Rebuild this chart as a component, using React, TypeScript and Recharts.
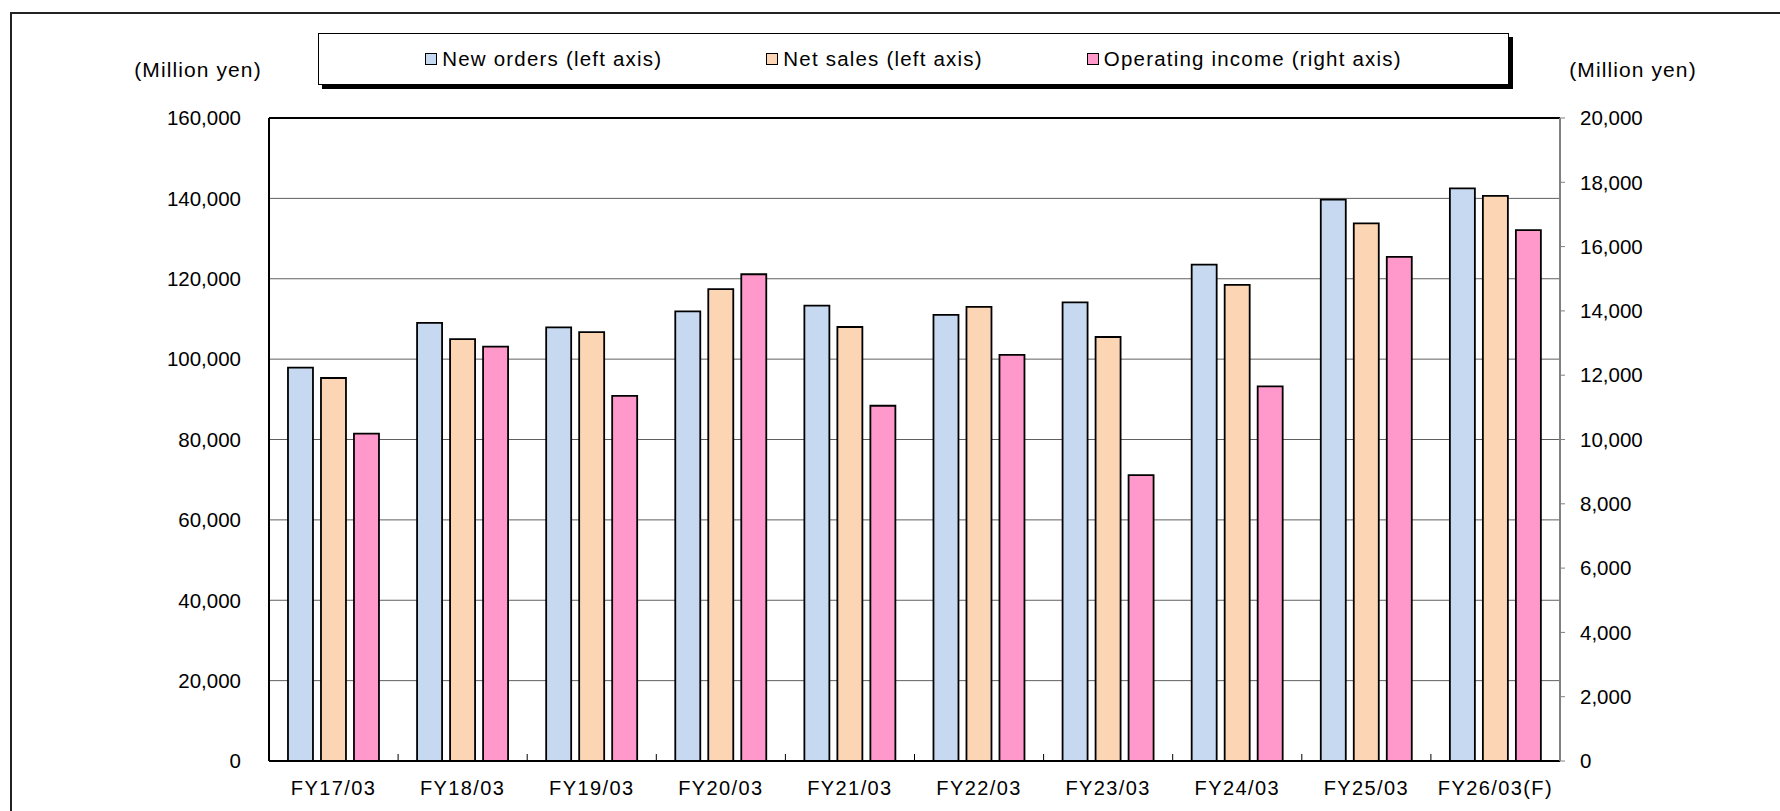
import React from "react";
import {
  BarChart,
  Bar,
  XAxis,
  YAxis,
  CartesianGrid,
  ReferenceLine,
} from "recharts";

// FY categories
const categories = [
  "FY17/03",
  "FY18/03",
  "FY19/03",
  "FY20/03",
  "FY21/03",
  "FY22/03",
  "FY23/03",
  "FY24/03",
  "FY25/03",
  "FY26/03(F)",
];

// million yen, left axis
const newOrders = [97900, 109000, 107900, 111900, 113300, 111000, 114100, 123500, 139700, 142500];
const netSales = [95300, 105000, 106700, 117400, 108000, 113000, 105500, 118500, 133800, 140600];

// million yen, right axis
const operatingIncome = [10180, 12890, 11360, 15140, 11050, 12630, 8890, 11650, 15680, 16510];

const leftTicks = [0, 20000, 40000, 60000, 80000, 100000, 120000, 140000, 160000];
const rightTicks = [0, 2000, 4000, 6000, 8000, 10000, 12000, 14000, 16000, 18000, 20000];

const series = [
  { key: "newOrders", name: "New orders (left axis)", color: "#C6D9F1", axis: "left" },
  { key: "netSales", name: "Net sales (left axis)", color: "#FCD5B4", axis: "left" },
  { key: "operatingIncome", name: "Operating income (right axis)", color: "#FF99CC", axis: "right" },
];

const data = categories.map((name, i) => ({
  name,
  newOrders: newOrders[i],
  netSales: netSales[i],
  operatingIncome: operatingIncome[i],
}));

const FONT = "'Liberation Sans', Arial, sans-serif";
const fmt = (v: number) => v.toLocaleString("en-US");

function CategoryTick(props: any) {
  const { x, y, payload, index, width } = props;
  const half = (width ?? 1291) / categories.length / 2;
  const axisY = y - 20;
  return (
    <g>
      <text
        x={x}
        y={y}
        dy="0.71em"
        textAnchor="middle"
        fontSize={20}
        letterSpacing={1.4}
        fill="#000"
        fontFamily={FONT}
      >
        {payload.value}
      </text>
      {index < categories.length - 1 && (
        <line x1={x + half} x2={x + half} y1={axisY} y2={axisY - 7} stroke="#000" strokeWidth={1} />
      )}
    </g>
  );
}

function LegendBox() {
  return (
    <div
      style={{
        position: "absolute",
        left: 318,
        top: 33,
        width: 1189,
        height: 50,
        border: "1px solid #000",
        boxShadow: "4px 4px 0 #000",
        background: "#fff",
        display: "flex",
        alignItems: "center",
        justifyContent: "center",
        gap: 104,
        fontSize: 20.5,
        letterSpacing: 1.2,
      }}
    >
      {series.map((s) => (
        <div key={s.key} style={{ display: "flex", alignItems: "center" }}>
          <span
            style={{
              display: "inline-block",
              width: 10,
              height: 10,
              border: "1px solid #000",
              background: s.color,
              marginRight: 5,
            }}
          />
          <span>{s.name}</span>
        </div>
      ))}
    </div>
  );
}

export default function App() {
  return (
    <div
      style={{
        position: "absolute",
        left: 0,
        top: 0,
        width: 1780,
        height: 811,
        overflow: "hidden",
        background: "#fff",
        fontFamily: FONT,
      }}
    >
      <div
        style={{
          position: "absolute",
          left: 10,
          top: 12,
          width: 2000,
          height: 2000,
          borderLeft: "2px solid #222",
          borderTop: "2px solid #222",
        }}
      />
      <BarChart
        width={1780}
        height={811}
        data={data}
        margin={{ top: 118, right: 120, bottom: 20, left: 0 }}
        barCategoryGap="14.7%"
        barGap={8}
        style={{ position: "absolute", left: 0, top: 0 }}
      >
        <CartesianGrid yAxisId="left" vertical={false} stroke="#606060" strokeWidth={1} />
        <XAxis
          dataKey="name"
          height={30}
          tickSize={0}
          tickMargin={20}
          tickLine={false}
          axisLine={{ stroke: "#000", strokeWidth: 2 }}
          tick={<CategoryTick />}
          interval={0}
        />
        <YAxis
          yAxisId="left"
          width={269}
          domain={[0, 160000]}
          ticks={leftTicks}
          tickFormatter={fmt}
          tickSize={0}
          tickMargin={28}
          tickLine={false}
          axisLine={{ stroke: "#000", strokeWidth: 2 }}
          tick={{ fontSize: 20.5, fill: "#000", fontFamily: FONT }}
        />
        <YAxis
          yAxisId="right"
          orientation="right"
          width={100}
          domain={[0, 20000]}
          ticks={rightTicks}
          tickFormatter={fmt}
          tickSize={5}
          tickMargin={15}
          tickLine={{ stroke: "#808080", strokeWidth: 1 }}
          axisLine={{ stroke: "#808080", strokeWidth: 2 }}
          tick={{ fontSize: 20.5, fill: "#000", fontFamily: FONT }}
        />
        <ReferenceLine yAxisId="left" y={160000} stroke="#000" strokeWidth={2} />
        {series.map((s) => (
          <Bar
            key={s.key}
            dataKey={s.key}
            name={s.name}
            yAxisId={s.axis}
            fill={s.color}
            stroke="#000"
            strokeWidth={1.8}
            isAnimationActive={false}
          />
        ))}
      </BarChart>
      <div
        style={{
          position: "absolute",
          left: 98,
          top: 58,
          width: 200,
          textAlign: "center",
          fontSize: 21,
          letterSpacing: 1.1,
        }}
      >
        (Million yen)
      </div>
      <div
        style={{
          position: "absolute",
          left: 1533,
          top: 58,
          width: 200,
          textAlign: "center",
          fontSize: 21,
          letterSpacing: 1.1,
        }}
      >
        (Million yen)
      </div>
      <LegendBox />
    </div>
  );
}
